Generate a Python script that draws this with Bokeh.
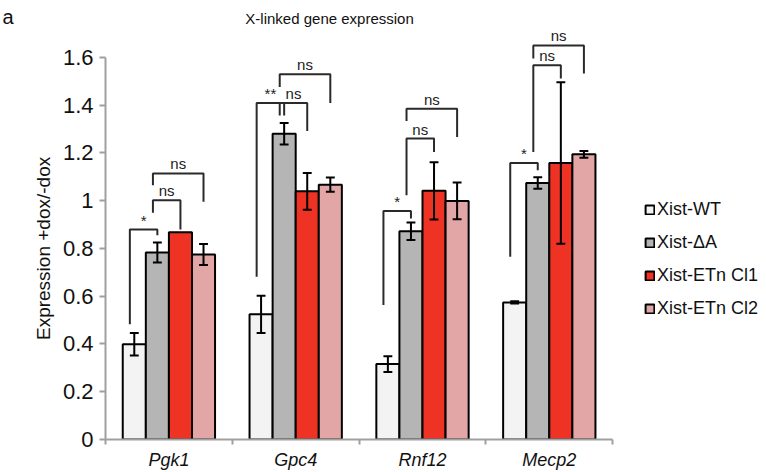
import math
from bokeh.plotting import figure
from bokeh.models import (FixedTicker, CustomJSTickFormatter, Label, Range1d,
                          ColumnDataSource)
from bokeh.core.properties import value
from bokeh.embed import file_html
from bokeh.resources import INLINE

# ---------------- data ----------------
genes = ["Pgk1", "Gpc4", "Rnf12", "Mecp2"]
series = ["Xist-WT", "Xist-\u0394A", "Xist-ETn Cl1", "Xist-ETn Cl2"]
colors = ["#f2f3f2", "#b4b5b4", "#ee3224", "#e3a6a6"]

wt = [0.399, 0.524, 0.316, 0.574]
wt_err = [0.047, 0.078, 0.033, 0.005]
delta_a = [0.783, 1.28, 0.872, 1.074]
delta_a_err = [0.042, 0.045, 0.037, 0.024]
etn_cl1 = [0.868, 1.039, 1.041, 1.158]
etn_cl1_err = [0.0, 0.077, 0.12, 0.338]
etn_cl2 = [0.775, 1.067, 0.999, 1.194]
etn_cl2_err = [0.044, 0.030, 0.077, 0.014]

values = [wt, delta_a, etn_cl1, etn_cl2]
errors = [wt_err, delta_a_err, etn_cl1_err, etn_cl2_err]

y_ticks = [0, 0.2, 0.4, 0.6, 0.8, 1.0, 1.2, 1.4, 1.6]
y_tick_labels = ["0", "0.2", "0.4", "0.6", "0.8", "1", "1.2", "1.4", "1.6"]

# significance brackets: gene, left series, right series, left foot, top, right foot, label
br_gene = [0, 0, 0, 1, 1, 1, 2, 2, 2, 3, 3, 3]
br_left = [0, 1, 1, 0, 1, 1, 0, 1, 1, 0, 1, 1]
br_right = [1, 2, 3, 1, 2, 3, 1, 2, 3, 1, 2, 3]
br_foot_l = [0.483, 0.949, 1.065, 0.681, 1.357, 1.476, 0.563, 1.023, 1.334, 0.765, 1.204, 1.595]
br_top = [0.879, 1.002, 1.114, 1.409, 1.409, 1.529, 0.957, 1.260, 1.385, 1.158, 1.567, 1.650]
br_foot_r = [0.855, 0.879, 0.995, 1.357, 1.292, 1.409, 0.925, 1.204, 1.267, 1.127, 1.511, 1.532]
br_label = ["*", "ns", "ns", "**", "ns", "ns", "*", "ns", "ns", "*", "ns", "ns"]

title_text = "X-linked gene expression"
y_label = "Expression +dox/-dox"
panel_letter = "a"

FONT = "Liberation Sans"
BW = 0.182  # bar width (category units)

p = figure(width=766, height=472, output_backend="svg", toolbar_location=None,
           x_range=Range1d(0, 5.213), y_range=Range1d(0, 1.838),
           min_border_left=105, min_border_right=0, min_border_top=0,
           min_border_bottom=32)
p.outline_line_color = None
p.xgrid.visible = False
p.ygrid.visible = False
p.background_fill_color = "white"


def bar_x(g, s):
    return g + 0.5 + (s - 1.5) * BW


# bars
for s in range(4):
    src = ColumnDataSource(dict(x=[bar_x(g, s) for g in range(4)], top=values[s]))
    p.vbar(x="x", top="top", width=BW, source=src, fill_color=colors[s],
           line_color="black", line_width=2, legend_label=series[s])

# error bars
ex, ey0, ey1 = [], [], []
cx0, cx1, cy = [], [], []
cap = 0.035
for s in range(4):
    for g in range(4):
        e = errors[s][g]
        if e <= 0:
            continue
        xc = bar_x(g, s)
        v = values[s][g]
        ex.append(xc); ey0.append(v - e); ey1.append(v + e)
        for yy in (v - e, v + e):
            cx0.append(xc - cap); cx1.append(xc + cap); cy.append(yy)
p.segment(x0=ex, y0=ey0, x1=ex, y1=ey1, line_color="black", line_width=2)
p.segment(x0=cx0, y0=cy, x1=cx1, y1=cy, line_color="black", line_width=2)

# significance brackets
xs, ys, lx, ly = [], [], [], []
for i in range(len(br_gene)):
    xl = bar_x(br_gene[i], br_left[i]) - 0.035
    xr = bar_x(br_gene[i], br_right[i])
    xs.append([xl, xl, xr, xr])
    ys.append([br_foot_l[i], br_top[i], br_top[i], br_foot_r[i]])
    lx.append((xl + xr) / 2)
    ly.append(br_top[i])
p.multi_line(xs=xs, ys=ys, line_color="#2a2a2a", line_width=2)
p.text(x=lx, y=ly, text=br_label, text_align="center", text_baseline="bottom",
       y_offset=-1, text_font=value(FONT), text_font_size="15px", text_color="#222222")

# chart title (inside the frame)
p.add_layout(Label(x=1.767, y=1.763, text=title_text, text_align="center",
                   text_baseline="middle", text_font=FONT, text_font_size="15px",
                   text_color="#111111"))

# axes
axis_color = "#a0a0a0"
xa = p.xaxis[0]
xa.bounds = (0, 4)
xa.ticker = FixedTicker(ticks=[g + 0.5 for g in range(4)],
                        minor_ticks=[g for g in range(5)])
xa.formatter = CustomJSTickFormatter(args=dict(names=genes),
                                     code="return names[Math.floor(tick)];")
xa.major_tick_out = 0
xa.major_tick_in = 0
xa.minor_tick_out = 5
xa.minor_tick_in = 0
xa.minor_tick_line_color = axis_color
xa.minor_tick_line_width = 2
xa.axis_line_color = axis_color
xa.axis_line_width = 2
xa.major_label_standoff = 5
xa.major_label_text_font = FONT
xa.major_label_text_font_style = "italic"
xa.major_label_text_font_size = "18px"
xa.major_label_text_color = "#111111"

ya = p.yaxis[0]
ya.bounds = (0, 1.6)
ya.ticker = FixedTicker(ticks=y_ticks, minor_ticks=[])
ya.formatter = CustomJSTickFormatter(
    args=dict(yt=y_ticks, yl=y_tick_labels),
    code="""
    for (let i = 0; i < yt.length; i++) {
        if (Math.abs(yt[i] - tick) < 1e-6) return yl[i];
    }
    return '';
    """)
ya.major_tick_out = 6
ya.major_tick_in = 0
ya.major_tick_line_color = axis_color
ya.major_tick_line_width = 2
ya.axis_line_color = axis_color
ya.axis_line_width = 2
ya.major_label_standoff = 6
ya.major_label_text_font = FONT
ya.major_label_text_font_size = "22px"
ya.major_label_text_color = "#111111"

# y-axis title and panel letter live in the left side panel (not clipped to the frame),
# positioned in data units: the title is centred on the 0-1.6 span like the original
p.add_layout(Label(x=-0.49, y=0.8, text=y_label, angle=math.pi / 2,
                   text_align="center", text_baseline="middle", text_font=FONT,
                   text_font_size="19px", text_color="#111111"), "left")
p.add_layout(Label(x=-0.812, y=1.767, text=panel_letter, text_align="left",
                   text_baseline="middle", text_font=FONT, text_font_size="20px",
                   text_color="#111111"), "left")

# legend
lg = p.legend[0]
lg.location = (539, 120)
lg.padding = 0
lg.margin = 0
lg.border_line_color = None
lg.background_fill_alpha = 0
lg.glyph_width = 11
lg.glyph_height = 11
lg.label_standoff = 2
lg.spacing = 12
lg.label_text_font = FONT
lg.label_text_font_size = "18px"
lg.label_text_color = "#111111"

open("out.html", "w").write(file_html(p, INLINE))
